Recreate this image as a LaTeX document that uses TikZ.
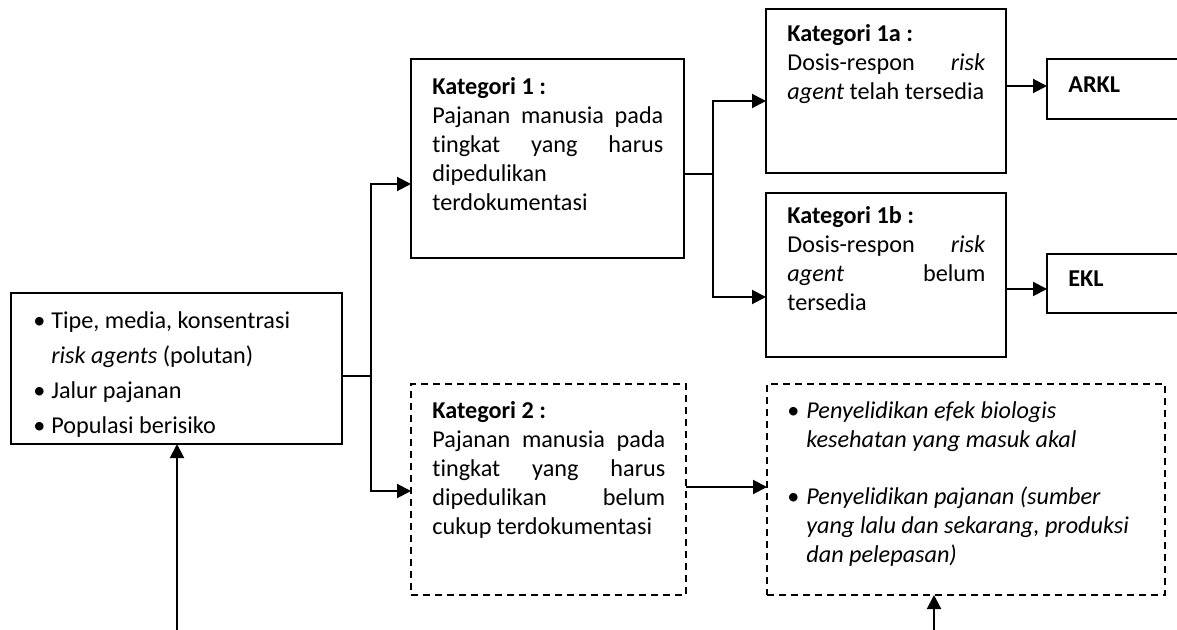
\documentclass[tikz,border=0pt]{standalone}
\usepackage{fontspec}
\setmainfont{Carlito}[Ligatures=NoCommon]
\usetikzlibrary{arrows.meta,calc}

\tikzset{
  box/.style={draw, line width=1pt, anchor=north west, inner sep=0pt, outer sep=0pt},
  dbox/.style={box, dash pattern=on 3.5pt off 2.5pt},
  txt/.style={anchor=north west, inner sep=0pt, align=flush left, font=\fontsize{12.1}{14.5}\selectfont},
  arr/.style={line width=1pt, -{Triangle[length=7pt,width=7pt]}},
  ln/.style={line width=1pt}
}
\newcommand{\bul}[1]{\makebox[#1][l]{\textbullet}}

\begin{document}
\begin{tikzpicture}[x=0.5pt,y=-0.5pt]
\useasboundingbox (0,0) rectangle (1177,630);

%kotak
\node[box, minimum width=165.5pt, minimum height=75.5pt] (inp) at (11,293) {};
\node[box, minimum width=136.5pt, minimum height=99.5pt] (kat1) at (411,59) {};
\node[box, minimum width=120pt, minimum height=82pt] (kat1a) at (766,9) {};
\node[box, minimum width=120pt, minimum height=82pt] (kat1b) at (766,193) {};
\node[box, minimum width=80pt, minimum height=30pt] (arkl) at (1047,59) {};
\node[box, minimum width=80pt, minimum height=29.5pt] (ekl) at (1047,254) {};
\node[dbox, minimum width=137.5pt, minimum height=105.5pt] (kat2) at (411,384) {};
\node[dbox, minimum width=199pt, minimum height=105.5pt] (efek) at (767,384) {};

%teks
\node[txt, text width=160pt, font=\fontsize{12.1}{17.5}\selectfont] (tinp) at (33,311)
  {\bul{9pt}Tipe, media, konsentrasi\\
   \hspace*{9pt}\textit{risk agents} (polutan)\\
   \bul{9pt}Jalur pajanan\\
   \bul{9pt}Populasi berisiko};
\node[txt, text width=115.5pt] (tkat1) at (432,77)
  {\textbf{Kategori 1 :}\\
   Pajanan\hfill manusia\hfill pada\\
   tingkat\hfill yang\hfill harus\\
   dipedulikan\\
   terdokumentasi};
\node[txt, text width=99pt] (tkat1a) at (787,24)
  {\textbf{Kategori 1a :}\\
   Dosis-respon\hfill\textit{risk}\\
   \textit{agent} telah tersedia};
\node[txt, text width=99pt] (tkat1b) at (787,206)
  {\textbf{Kategori 1b :}\\
   Dosis-respon\hfill\textit{risk}\\
   \textit{agent}\hfill belum\\
   tersedia};
\node[txt, anchor=base west] (tarkl) at (1068,93) {\textbf{ARKL}};
\node[txt, anchor=base west] (tekl) at (1068,287) {\textbf{EKL}};
\node[txt, text width=116.5pt] (tkat2) at (432,401)
  {\textbf{Kategori 2 :}\\
   Pajanan\hfill manusia\hfill pada\\
   tingkat\hfill yang\hfill harus\\
   dipedulikan\hfill belum\\
   cukup terdokumentasi};
\node[txt, text width=190pt] (tefek) at (787,401)
  {\bul{9.5pt}\textit{Penyelidikan efek biologis}\\
   \hspace*{9.5pt}\textit{kesehatan yang masuk akal}\\[14.25pt]
   \bul{9.5pt}\textit{Penyelidikan pajanan (sumber}\\
   \hspace*{9.5pt}\textit{yang lalu dan sekarang, produksi}\\
   \hspace*{9.5pt}\textit{dan pelepasan)}};

%panah
\coordinate (j1) at (371,376);
\draw[ln] ([yshift=-3.75pt]inp.east) -- (j1);
\draw[arr] (j1) |- ([yshift=-12.75pt]kat1.west);
\draw[arr] (j1) |- ([yshift=-0.75pt]kat2.west);

\coordinate (j2) at (713,174);
\draw[ln] ([yshift=-7.75pt]kat1.east) -- (j2);
\draw[arr] (j2) |- ([yshift=-5pt]kat1a.west);
\draw[arr] (j2) |- ([yshift=-11pt]kat1b.west);

\coordinate (a1) at ([yshift=2.5pt]kat1a.east);
\coordinate (a2) at ([yshift=-7pt]kat1b.east);
\coordinate (a3) at ([yshift=1.25pt]kat2.east);
\draw[arr] (a1) -- (a1 -| arkl.west);
\draw[arr] (a2) -- (a2 -| ekl.west);
\draw[arr] (a3) -- (a3 -| efek.west);

\coordinate (s1) at (177,630);
\coordinate (s2) at (934,630);
\draw[arr] (s1) -- (s1 |- inp.south);
\draw[arr] (s2) -- (s2 |- efek.south);
\end{tikzpicture}
\end{document}
